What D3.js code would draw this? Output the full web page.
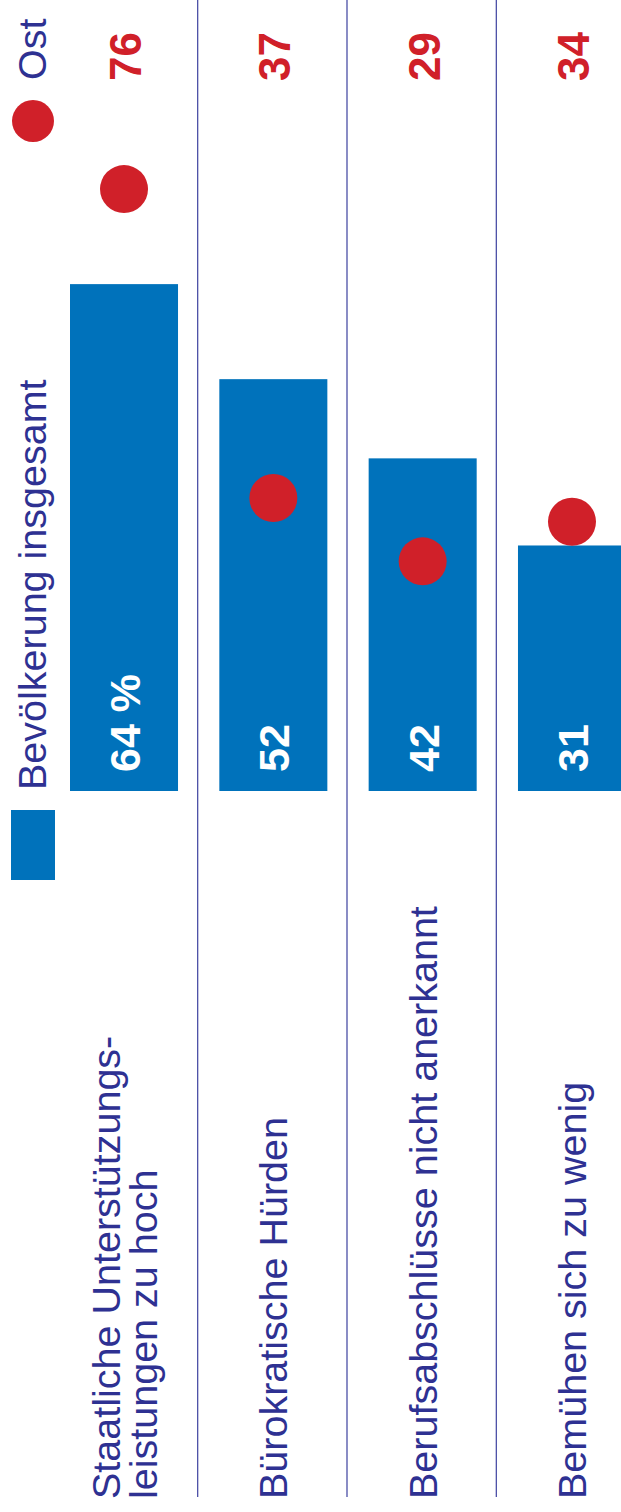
<html><head>
<style>
  body { margin: 0; background: #fff; }
  svg { display: block; }
</style>
</head><body>
<div id="chart"></div>
<script src="https://cdnjs.cloudflare.com/ajax/libs/d3/7.8.5/d3.min.js"></script>
<script>
// data
const categories = [
  ["Staatliche Unterstützungs-", "leistungen zu hoch"],
  ["Bürokratische Hürden"],
  ["Berufsabschlüsse nicht anerkannt"],
  ["Bemühen sich zu wenig"]
];
const totalValues = [64, 52, 42, 31];
const ostValues = [76, 37, 29, 34];
const seriesNames = ["Bevölkerung insgesamt", "Ost"];

const width = 621;
const height = 1512;
const blue = "#0072bb";
const red = "#d02029";
const ink = "#2e3192";
const font = "'Liberation Sans', Arial, sans-serif";

const svg = d3.select("#chart").append("svg")
  .attr("width", width)
  .attr("height", height);

// scales: categories run left to right, values grow upward
const x = d3.scaleBand()
  .domain(d3.range(categories.length))
  .range([70, 626])
  .paddingInner(0.2766)
  .paddingOuter(0);

const baseline = 791;
const y = d3.scaleLinear()
  .domain([0, 100])
  .range([baseline, baseline - 792]);

const step = x.step();
const gap = step - x.bandwidth();

// separators between categories
svg.append("g").selectAll("line")
  .data(d3.range(1, categories.length))
  .enter().append("line")
  .attr("x1", i => x(i) - gap / 2 - 1)
  .attr("x2", i => x(i) - gap / 2 - 1)
  .attr("y1", 0)
  .attr("y2", 1497)
  .style("stroke", "#4b4fa6")
  .style("stroke-width", 1.3);

// bars
svg.append("g").selectAll("rect")
  .data(totalValues)
  .enter().append("rect")
  .attr("x", (d, i) => x(i))
  .attr("width", x.bandwidth())
  .attr("y", d => y(d))
  .attr("height", d => y(0) - y(d))
  .style("fill", blue);

// Ost dots
svg.append("g").selectAll("circle")
  .data(ostValues)
  .enter().append("circle")
  .attr("cx", (d, i) => x(i) + x.bandwidth() / 2)
  .attr("cy", d => y(d))
  .attr("r", 24)
  .style("fill", red);

// white value labels inside bars
svg.append("g").selectAll("text")
  .data(totalValues)
  .enter().append("text")
  .attr("transform", (d, i) => `translate(${x(i) + x.bandwidth() / 2},${baseline - 19}) rotate(-90)`)
  .attr("dy", 16)
  .style("font-family", font)
  .style("font-weight", "bold")
  .style("font-size", "43px")
  .style("fill", "#fff")
  .text((d, i) => i === 0 ? d + " %" : d);

// red Ost values at the top
svg.append("g").selectAll("text")
  .data(ostValues)
  .enter().append("text")
  .attr("transform", (d, i) => `translate(${x(i) + x.bandwidth() / 2 + 1},32) rotate(-90)`)
  .attr("text-anchor", "end")
  .attr("dy", 16)
  .style("font-family", font)
  .style("font-weight", "bold")
  .style("font-size", "44px")
  .style("fill", red)
  .text(d => d);

// category labels
const lineH = 37;
const cat = svg.append("g").selectAll("text")
  .data(categories)
  .enter().append("text")
  .attr("transform", (d, i) => `translate(${x(i) + x.bandwidth() / 2},1499) rotate(-90)`)
  .style("font-family", font)
  .style("font-size", "39.5px")
  .style("fill", ink);

cat.selectAll("tspan")
  .data(d => d.map((t, j) => ({ t, j, n: d.length })))
  .enter().append("tspan")
  .attr("x", 0)
  .attr("y", d => 14 + (d.j - (d.n - 1) / 2) * lineH)
  .text(d => d.t);

// legend
svg.append("rect")
  .attr("x", 11).attr("y", 810)
  .attr("width", 44).attr("height", 70)
  .style("fill", blue);

svg.append("text")
  .attr("transform", "translate(46,790) rotate(-90)")
  .style("font-family", font)
  .style("font-size", "39.5px")
  .style("fill", ink)
  .text(seriesNames[0]);

svg.append("circle")
  .attr("cx", 33).attr("cy", 121)
  .attr("r", 21)
  .style("fill", red);

svg.append("text")
  .attr("transform", "translate(46,80) rotate(-90)")
  .style("font-family", font)
  .style("font-size", "39.5px")
  .style("fill", ink)
  .text(seriesNames[1]);
</script>
</body></html>
